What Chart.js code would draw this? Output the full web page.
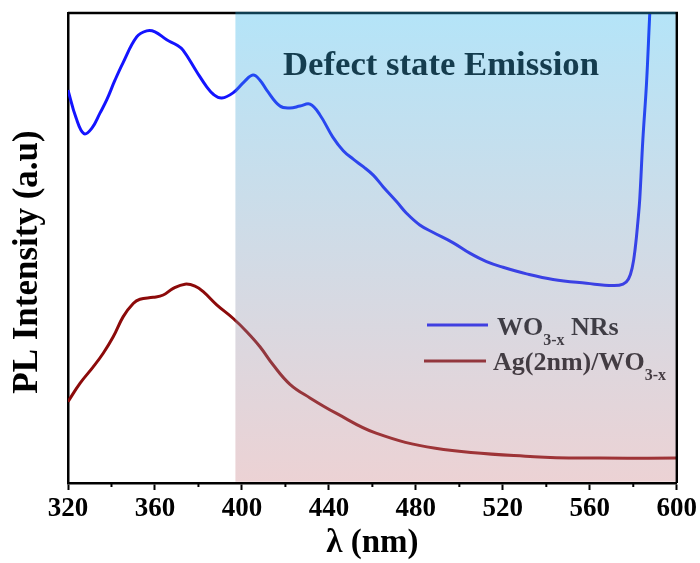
<!DOCTYPE html>
<html>
<head>
<meta charset="utf-8">
<script src="https://cdn.jsdelivr.net/npm/chart.js@4"></script>
<style>
  body { margin: 0; background: #fff; }
  canvas { display: block; }
</style>
</head>
<body>
<canvas id="plChart" width="700" height="563"></canvas>
<script>
// ================== Data ==================
const seriesNames = ["WO3-x NRs", "Ag(2nm)/WO3-x"];

const wavelengthWO = [320.0, 323.7, 327.4, 331.0, 334.7, 337.8, 341.6, 345.3, 351.6, 356.2,
  360.0, 365.4, 370.0, 372.9, 379.2, 383.8, 387.1, 390.7, 395.9, 400.9,
  405.1, 408.3, 411.4, 417.5, 422.1, 426.7, 431.3, 435.9, 441.8, 446.6,
  451.2, 455.8, 460.4, 465.0, 471.1, 475.7, 481.8, 488.0, 497.2, 504.8,
  512.5, 520.1, 530.9, 543.1, 558.5, 570.7, 575.3, 577.8, 579.6, 580.9,
  582.2, 583.0, 584.4, 586.1, 587.6, 588.3];
const intensityWO = [83.6, 77.7, 74.3, 75.5, 78.7, 81.5, 85.7, 89.4, 94.9, 96.2,
  96.0, 94.3, 93.2, 92.1, 87.5, 84.3, 82.6, 81.9, 83.0, 85.3,
  86.8, 85.7, 83.6, 80.2, 79.8, 80.2, 80.6, 78.3, 73.6, 70.7,
  68.9, 67.3, 65.5, 63.0, 59.9, 57.4, 54.9, 53.3, 51.1, 48.9,
  47.1, 45.9, 44.5, 43.3, 42.5, 42.0, 42.3, 43.4, 46.0, 50.0,
  56.0, 60.5, 73.0, 85.1, 100.0, 106.0];

const wavelengthAg = [320.0, 325.5, 331.6, 336.2, 340.8, 345.4, 350.0, 353.1, 359.2, 363.8,
  368.4, 373.8, 378.4, 382.2, 388.4, 396.0, 402.2, 408.3, 414.4, 422.1,
  431.3, 443.5, 461.7, 489.0, 534.4, 564.6, 600.0];
const intensityAg = [17.3, 21.2, 24.7, 27.6, 31.1, 35.4, 38.2, 39.1, 39.5, 40.0,
  41.4, 42.3, 41.9, 40.7, 37.9, 35.0, 32.2, 29.0, 25.1, 21.0,
  18.1, 14.8, 10.6, 7.4, 5.6, 5.3, 5.3];

const xMin = 320, xMax = 600, xStep = 40;
const minorTicks = [340, 380, 420, 460, 500, 540, 580];
const defectStart = 397;

const serif = '"Liberation Serif", "Times New Roman", serif';
const blue = "#1414ff";
const red = "#8c0a0a";

const toPoints = (xs, ys) => xs.map((v, i) => ({ x: v, y: ys[i] }));

// ================== Overlay / legend plugin ==================
function drawLabel(ctx, x, y, parts) {
  // parts: [text, isSub]
  parts.forEach(([t, sub]) => {
    ctx.font = sub ? `bold 16px ${serif}` : `bold 26px ${serif}`;
    ctx.fillText(t, x, sub ? y + 10 : y);
    x += ctx.measureText(t).width;
  });
}

const decorPlugin = {
  id: "decor",
  afterDraw(chart) {
    const { ctx, chartArea: a, scales } = chart;
    const xs = scales.x;
    ctx.save();

    // frame (top + right)
    ctx.strokeStyle = "#000";
    ctx.lineWidth = 2.5;
    ctx.beginPath();
    ctx.moveTo(a.left, a.top);
    ctx.lineTo(a.right, a.top);
    ctx.lineTo(a.right, a.bottom);
    ctx.stroke();

    // minor ticks
    ctx.lineWidth = 2;
    minorTicks.forEach((v) => {
      const px = xs.getPixelForValue(v);
      ctx.beginPath();
      ctx.moveTo(px, a.bottom);
      ctx.lineTo(px, a.bottom + 4);
      ctx.stroke();
    });

    // y axis title
    ctx.fillStyle = "#000";
    ctx.save();
    ctx.translate(28, 262);
    ctx.rotate(-Math.PI / 2);
    ctx.textAlign = "center";
    ctx.textBaseline = "middle";
    ctx.font = `bold 35px ${serif}`;
    ctx.fillText("PL Intensity (a.u)", 0, 0);
    ctx.restore();

    // annotation
    ctx.textBaseline = "alphabetic";
    ctx.font = `bold 34.7px ${serif}`;
    ctx.fillText("Defect state Emission", 283, 75);

    // legend
    ctx.lineWidth = 3;
    ctx.strokeStyle = blue;
    ctx.beginPath();
    ctx.moveTo(427, 325);
    ctx.lineTo(488, 325);
    ctx.stroke();
    ctx.strokeStyle = red;
    ctx.beginPath();
    ctx.moveTo(424, 361);
    ctx.lineTo(486, 361);
    ctx.stroke();
    ctx.fillStyle = "#111";
    drawLabel(ctx, 497, 335, [["WO", false], ["3-x", true], [" NRs", false]]);
    drawLabel(ctx, 493, 370, [["Ag(2nm)/WO", false], ["3-x", true]]);

    // defect-state shaded region
    const x0 = xs.getPixelForValue(defectStart);
    const g = ctx.createLinearGradient(0, a.top, 0, a.bottom);
    g.addColorStop(0, "rgba(41,178,235,0.35)");
    g.addColorStop(1, "rgba(201,126,132,0.35)");
    ctx.fillStyle = g;
    ctx.fillRect(x0, a.top - 1.25, a.right - 1.25 - x0, a.bottom - a.top);

    ctx.restore();
  },
};

// ================== Chart ==================
const ctx = document.getElementById("plChart").getContext("2d");
new Chart(ctx, {
  type: "line",
  data: {
    datasets: [
      {
        label: seriesNames[0],
        data: toPoints(wavelengthWO, intensityWO),
        borderColor: blue,
        borderWidth: 3,
        pointRadius: 0,
        tension: 0.4,
      },
      {
        label: seriesNames[1],
        data: toPoints(wavelengthAg, intensityAg),
        borderColor: red,
        borderWidth: 3,
        pointRadius: 0,
        tension: 0.4,
      },
    ],
  },
  options: {
    responsive: false,
    animation: false,
    layout: { padding: { top: 13, right: 23, left: 0, bottom: 0 } },
    plugins: { legend: { display: false }, tooltip: { enabled: false } },
    scales: {
      x: {
        type: "linear",
        min: xMin,
        max: xMax,
        afterFit: (s) => { s.height = 80; },
        grid: { drawOnChartArea: false, tickLength: 7, tickWidth: 2, tickColor: "#000" },
        border: { color: "#000", width: 2.5 },
        ticks: {
          stepSize: xStep,
          padding: 3,
          color: "#000",
          maxRotation: 0,
          autoSkip: false,
          font: { family: serif, size: 27, weight: "bold" },
        },
        title: {
          display: true,
          text: "λ (nm)",
          color: "#000",
          padding: { top: 0, bottom: 0 },
          font: { family: serif, size: 33, weight: "bold" },
        },
      },
      y: {
        min: 0,
        max: 100,
        afterFit: (s) => { s.width = 68; },
        grid: { drawOnChartArea: false, drawTicks: false },
        border: { color: "#000", width: 2.5 },
        ticks: { display: false },
        title: { display: false },
      },
    },
  },
  plugins: [decorPlugin],
});
</script>
</body>
</html>
